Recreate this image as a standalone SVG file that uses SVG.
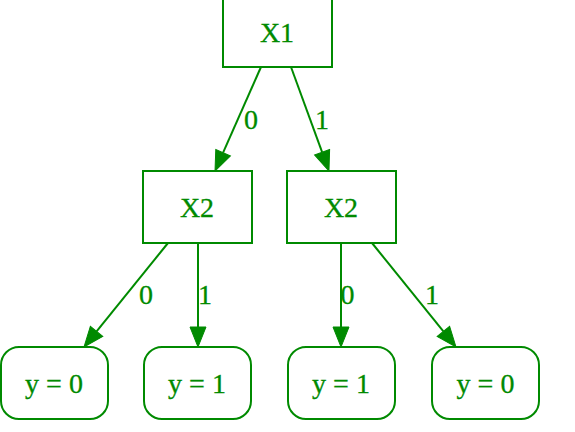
<svg xmlns="http://www.w3.org/2000/svg" width="575" height="432" viewBox="0 0 575 432">
<style>
.n{fill:#fff;stroke:#008a00;stroke-width:2}
.t{font-family:"Liberation Serif",serif;font-size:28px;fill:#008a00;stroke:#008a00;stroke-width:0.3;text-anchor:middle}
.e{stroke:#008a00;stroke-width:2;fill:none}
</style>
<defs>
<marker id="ah" markerUnits="userSpaceOnUse" markerWidth="22" markerHeight="18" viewBox="0 0 22 18" refX="1" refY="9" orient="auto">
<path d="M1,1 L21,9 L1,17 z" fill="#008a00" stroke="#008a00" stroke-width="1"/>
</marker>
</defs>
<rect width="575" height="432" fill="#fff"/>
<g id="edges">
<line class="e" x1="261" y1="67" x2="223.1" y2="152.7" marker-end="url(#ah)"/>
<line class="e" x1="291" y1="67" x2="322.1" y2="152.2" marker-end="url(#ah)"/>
<line class="e" x1="168" y1="243" x2="96.6" y2="331.4" marker-end="url(#ah)"/>
<line class="e" x1="198" y1="243" x2="198" y2="327" marker-end="url(#ah)"/>
<line class="e" x1="341" y1="243" x2="341" y2="327" marker-end="url(#ah)"/>
<line class="e" x1="372" y1="243" x2="443.4" y2="331.4" marker-end="url(#ah)"/>
<text class="t" x="251" y="129">0</text>
<text class="t" x="322" y="129">1</text>
<text class="t" x="146" y="304">0</text>
<text class="t" x="205" y="304">1</text>
<text class="t" x="347.5" y="304">0</text>
<text class="t" x="432" y="304">1</text>
</g>
<g id="x1"><rect class="n" x="223" y="-5" width="109" height="72"/><text class="t" x="277" y="42">X1</text></g>
<g id="x2a"><rect class="n" x="143" y="171" width="109" height="72"/><text class="t" x="197" y="217">X2</text></g>
<g id="x2b"><rect class="n" x="287" y="171" width="109" height="72"/><text class="t" x="341" y="217">X2</text></g>
<g id="leaf1"><rect class="n" x="1" y="347" width="107" height="72" rx="18"/><text class="t" x="54" y="393">y = 0</text></g>
<g id="leaf2"><rect class="n" x="144" y="347" width="107" height="72" rx="18"/><text class="t" x="197" y="393">y = 1</text></g>
<g id="leaf3"><rect class="n" x="288" y="347" width="107" height="72" rx="18"/><text class="t" x="341" y="393">y = 1</text></g>
<g id="leaf4"><rect class="n" x="432" y="347" width="107" height="72" rx="18"/><text class="t" x="485.5" y="393">y = 0</text></g>
</svg>
